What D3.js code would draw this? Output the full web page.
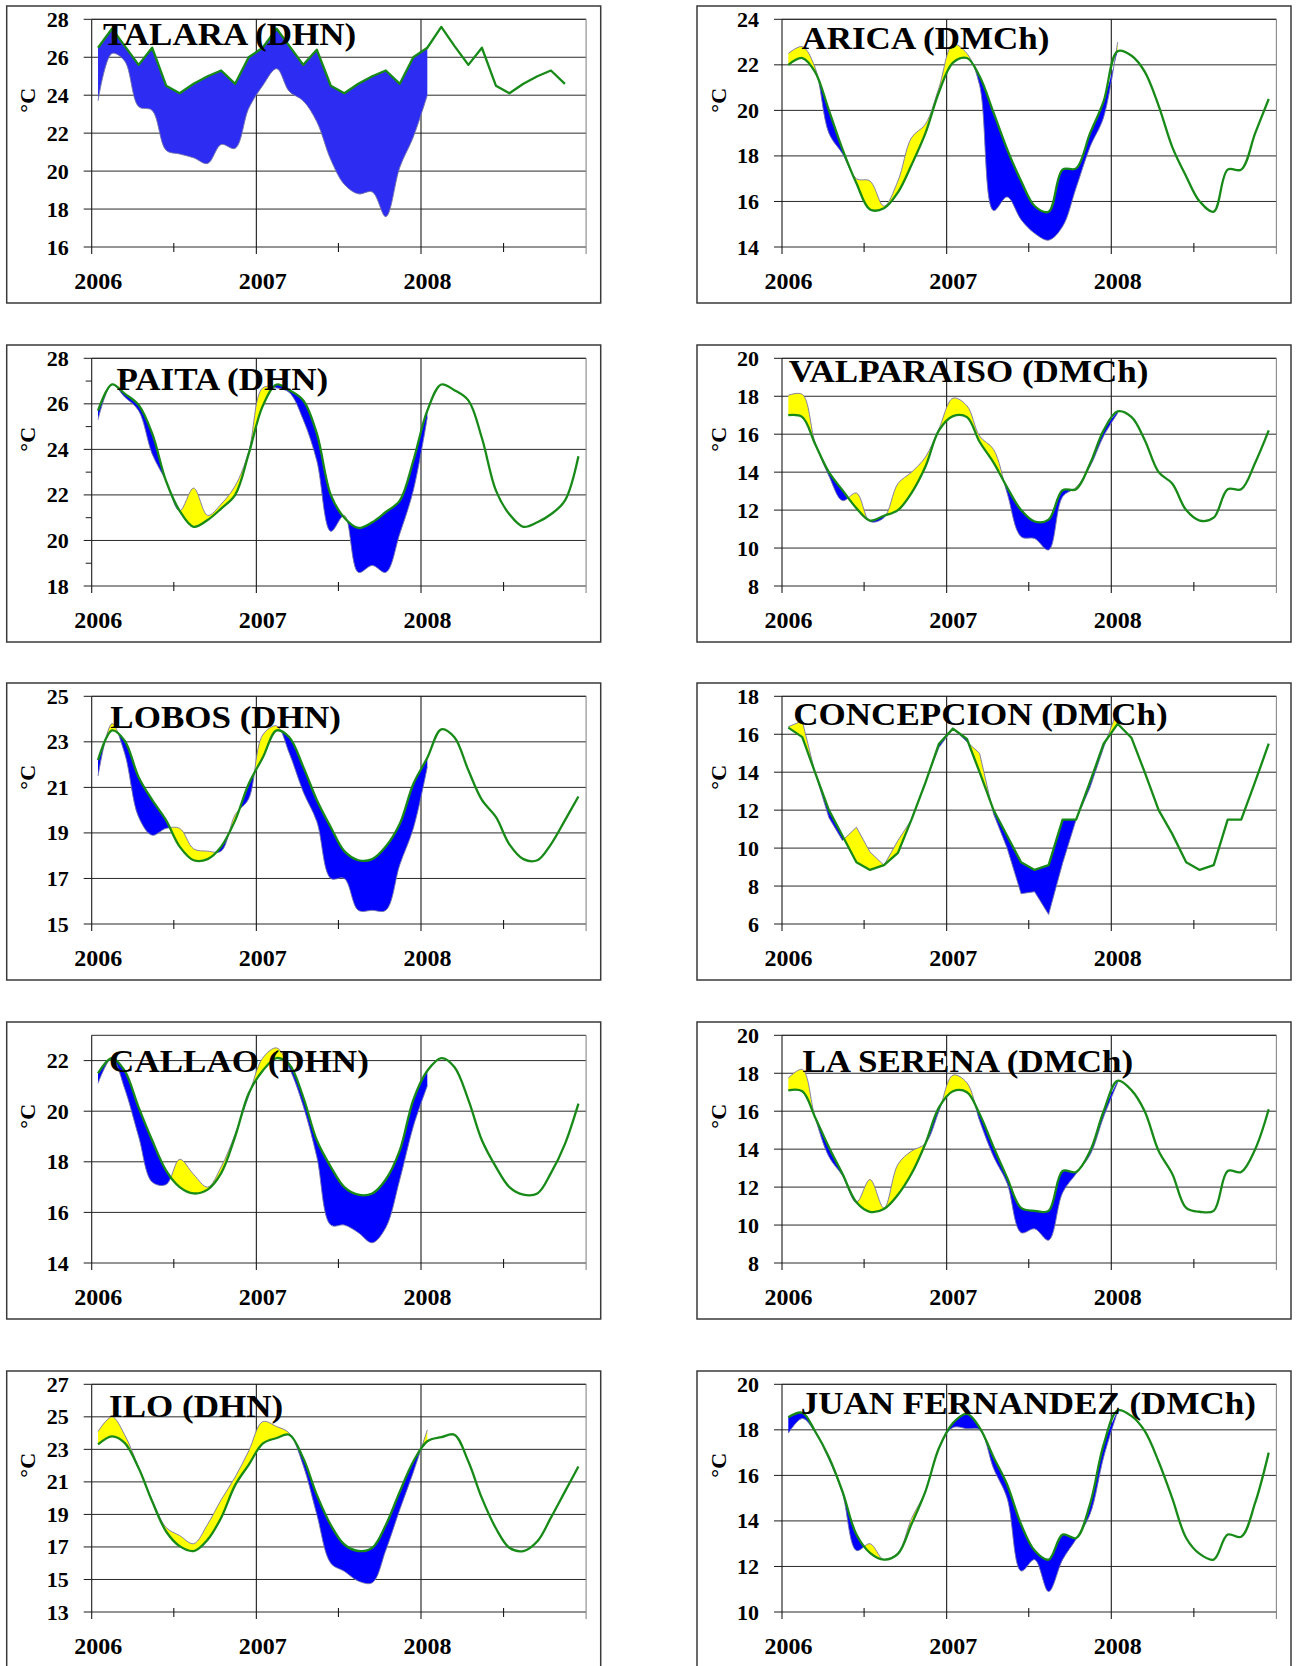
<!DOCTYPE html>
<html><head><meta charset="utf-8">
<script src="https://cdn.jsdelivr.net/npm/d3@7"></script>
<style>body{margin:0;background:#fff}svg{display:block}</style>
</head><body>
<svg id="chart" width="1296" height="1666"></svg>
<script>
// ---------------- DATA ----------------
const stations = ["TALARA (DHN)", "ARICA (DMCh)", "PAITA (DHN)", "VALPARAISO (DMCh)", "LOBOS (DHN)",
  "CONCEPCION (DMCh)", "CALLAO (DHN)", "LA SERENA (DMCh)", "ILO (DHN)", "JUAN FERNANDEZ (DMCh)"];
const yMin  = [16, 14, 18, 8, 15, 6, 14, 8, 13, 10];
const yMax  = [28, 24, 28, 20, 25, 18, 23, 20, 27, 20];
const yStep = [2, 2, 2, 2, 2, 2, 2, 2, 2, 2];
const yearLabels = ["2006", "2007", "2008"];
// monthly series start January 2006
const talaraClim = [26.5,27.5,26.6,25.6,26.5,24.5,24.1,24.6,25.0,25.3,24.6,26.0,
  26.5,27.5,26.6,25.6,26.4,24.5,24.1,24.6,25.0,25.3,24.6,26.0,
  26.5,27.6,26.6,25.6,26.5,24.5,24.1,24.6,25.0,25.3,24.6];
const talaraObs = [23.7,26.2,25.8,23.4,23.2,21.1,20.9,20.7,20.4,21.4,21.2,23.3,
  24.5,25.4,24.2,23.7,22.6,20.6,19.3,18.8,18.9,17.6,20.2,21.8,24.0];
const aricaClim = [22.0,22.3,21.7,20.0,18.3,16.8,15.65,15.7,16.4,17.6,19.0,20.8,
  22.1,22.3,21.5,19.9,18.3,16.9,15.8,15.55,17.4,17.45,19.0,20.4,
  22.6,22.4,21.7,20.2,18.4,17.1,16.0,15.55,17.4,17.4,19.0,20.5];
const aricaObs = [22.5,22.8,21.9,19.0,18.1,17.0,16.9,15.8,16.9,18.8,19.4,21.0,
  22.9,22.5,21.1,15.6,16.2,15.2,14.6,14.3,14.9,16.6,18.4,19.7,23.0];
const paitaClim = [25.7,26.85,26.45,25.95,24.7,22.6,21.3,20.6,20.9,21.4,22.0,23.8,
  25.9,26.85,26.6,26.15,24.7,22.0,21.0,20.55,20.8,21.25,21.75,23.5,
  25.7,26.85,26.6,26.15,24.5,22.2,21.15,20.6,20.8,21.15,21.75,23.7];
const paitaObs = [25.3,26.85,26.3,25.7,23.8,22.6,21.3,22.3,21.1,21.6,22.4,23.9,
  26.7,26.7,26.5,25.3,23.5,20.4,21.1,18.6,18.9,18.6,20.3,22.2,25.4];
const valparaisoClim = [17.0,16.9,15.5,14.0,13.05,12.1,11.45,11.7,12.0,12.9,14.3,16.2,
  16.95,16.9,15.6,14.5,13.2,12.0,11.4,11.5,13.05,13.1,14.45,16.2,
  17.2,16.9,15.7,14.0,13.4,12.0,11.45,11.6,13.1,13.1,14.5,16.2];
const valparaisoObs = [18.05,18.1,15.6,13.8,12.5,12.9,11.4,11.6,13.4,14.0,14.8,16.3,
  17.9,17.5,15.9,15.2,12.9,10.6,10.5,9.9,12.7,13.2,14.3,15.9,17.1];
const lobosClim = [22.2,23.5,23.05,21.45,20.45,19.55,18.4,17.8,17.85,18.4,19.55,21.15,
  22.3,23.5,23.2,21.9,20.45,19.25,18.2,17.8,17.85,18.4,19.4,21.15,
  22.3,23.55,23.2,21.75,20.45,19.7,18.5,17.85,17.8,18.5,19.55,20.6];
const lobosObs = [21.5,23.8,22.5,19.7,18.9,19.2,19.2,18.3,18.2,18.2,19.8,20.5,
  23.3,23.7,22.5,20.8,19.5,17.0,17.0,15.6,15.6,15.6,17.6,19.2,21.9];
const concepcionClim = [16.35,15.85,14.0,12.0,10.65,9.25,8.85,9.1,9.75,11.5,13.45,15.5,
  16.3,15.75,14.0,12.0,10.65,9.25,8.85,9.1,11.5,11.5,13.5,15.5,
  16.55,15.8,14.0,12.0,10.75,9.25,8.85,9.1,11.5,11.5,13.5,15.5];
const concepcionObs = [16.4,16.7,14.0,11.6,10.4,11.1,9.8,9.1,10.4,11.5,13.5,15.3,
  16.3,15.6,15.0,11.8,10.0,7.6,7.7,6.5,9.2,11.5,13.2,15.3,17.3];
const callaoClim = [21.5,22.1,21.6,20.15,18.85,17.65,17.0,16.75,16.9,17.55,19.0,20.7,
  21.6,22.1,21.85,20.55,18.85,17.8,17.0,16.7,16.75,17.3,18.45,20.45,
  21.6,22.1,21.75,20.45,18.85,17.8,17.0,16.7,16.75,17.55,18.7,20.3];
const callaoObs = [21.1,22.1,20.9,19.0,17.2,17.1,18.1,17.5,17.0,17.8,19.1,20.6,
  22.1,22.5,21.7,20.2,18.2,15.5,15.5,15.2,14.8,15.4,17.3,19.4,21.0];
const laSerenaClim = [17.1,17.05,15.7,14.1,12.7,11.2,10.7,10.85,11.6,12.7,14.3,16.2,
  17.05,17.0,15.85,14.1,12.5,10.9,10.75,10.75,12.85,12.8,13.9,16.0,
  17.6,17.1,16.0,13.9,12.7,10.9,10.7,10.75,12.85,12.8,14.0,16.1];
const laSerenaObs = [17.75,18.2,15.7,13.6,12.6,11.2,12.4,10.9,13.2,13.9,14.3,16.0,
  17.9,17.5,15.5,13.6,12.2,9.6,9.8,9.2,11.7,12.7,13.7,15.7,17.5];
const iloClim = [23.3,23.8,23.4,21.85,19.8,17.95,17.05,16.75,17.45,18.8,20.8,22.05,
  23.35,23.7,23.9,22.45,20.2,18.35,17.15,16.75,16.95,18.35,20.4,22.25,
  23.5,23.75,23.9,22.25,20.0,18.15,16.95,16.75,17.35,18.8,20.4,21.95];
const iloObs = [24.1,25.0,23.9,21.9,19.9,18.2,17.7,17.2,18.4,19.9,21.3,22.9,
  24.7,24.4,24.0,22.0,19.0,16.0,15.5,14.9,14.8,16.8,19.3,21.6,24.2];
const juanFernandezClim = [18.55,18.75,17.95,16.8,15.3,13.4,12.6,12.3,12.55,13.85,15.3,17.2,
  18.3,18.7,18.1,16.8,15.6,13.85,12.7,12.3,13.4,13.25,14.75,17.35,
  18.85,18.6,17.95,16.6,15.0,13.25,12.55,12.3,13.4,13.3,14.8,17.0];
const juanFernandezObs = [17.85,18.5,17.9,16.7,15.2,12.7,13.0,12.3,12.6,14.1,15.3,17.2,
  18.1,18.05,18.0,16.3,15.0,11.8,12.3,10.9,12.3,13.2,14.3,16.8,18.8];

const climSeries = [talaraClim, aricaClim, paitaClim, valparaisoClim, lobosClim,
  concepcionClim, callaoClim, laSerenaClim, iloClim, juanFernandezClim];
const obsSeries = [talaraObs, aricaObs, paitaObs, valparaisoObs, lobosObs,
  concepcionObs, callaoObs, laSerenaObs, iloObs, juanFernandezObs];
const smoothClim = [false, true, true, true, true, false, true, true, true, true];
const smoothObs  = [true, true, true, true, true, false, true, true, true, true];

// ---------------- LAYOUT / STYLE ----------------
const colX = [6.7, 697], rowY = [6, 345, 683, 1022, 1371];
const boxW = 594, boxH = 297;
const plotDX = 85, plotDY = 13.3, plotW = 494.4, plotH = 227.7;
const titleOff = [[11.3,25.7],[19.4,30],[24.8,31.7],[6.8,23.4],[18.6,31.6],[11.3,28.7],[17.4,36.7],[20.5,36.7],[17.4,32.4],[18.7,30]];
const serif = "'Liberation Serif','Times New Roman',Times,serif";
const svg = d3.select("#chart");

stations.forEach((name, i) => {
  const bx = colX[i % 2], by = rowY[Math.floor(i / 2)];
  const L = bx + plotDX, T = by + plotDY, R = L + plotW, B = T + plotH;
  const g = svg.append("g");
  g.append("rect").attr("x", bx).attr("y", by).attr("width", boxW).attr("height", boxH)
    .attr("fill", "#fff").attr("stroke", "#3a3a3a").attr("stroke-width", 1.5);

  const x = d3.scaleTime().domain([new Date(2006, 0, 1), new Date(2009, 0, 1)]).range([L, R]);
  const y = d3.scaleLinear().domain([yMin[i], yMax[i]]).range([B, T]);
  const ticks = d3.range(yMin[i], yMax[i] + 0.001, yStep[i]);

  // grid
  g.selectAll(".hg").data(ticks).enter().append("line")
    .attr("x1", L).attr("x2", R).attr("y1", d => y(d)).attr("y2", d => y(d))
    .attr("stroke", "#2a2a2a").attr("stroke-width", 1);
  g.append("line").attr("x1", L).attr("x2", R).attr("y1", T).attr("y2", T).attr("stroke", "#2a2a2a");
  const years = [2006, 2007, 2008, 2009].map(yr => new Date(yr, 0, 1));
  g.selectAll(".vg").data(years).enter().append("line")
    .attr("x1", d => x(d)).attr("x2", d => x(d)).attr("y1", T).attr("y2", B + 7)
    .attr("stroke", (d, k) => k === 3 ? "#888" : "#1a1a1a").attr("stroke-width", 1.1);
  const halves = [2006, 2007, 2008].map(yr => new Date(yr, 6, 2));
  g.selectAll(".ht").data(halves).enter().append("line")
    .attr("x1", d => x(d)).attr("x2", d => x(d)).attr("y1", B - 4).attr("y2", B + 5)
    .attr("stroke", "#1a1a1a").attr("stroke-width", 1.1);
  g.selectAll(".yt").data(ticks).enter().append("line")
    .attr("x1", L - 8).attr("x2", L).attr("y1", d => y(d)).attr("y2", d => y(d))
    .attr("stroke", "#1a1a1a");
  if (i === 2) {
    g.selectAll(".ym").data(d3.range(yMin[i] + 1, yMax[i], 2)).enter().append("line")
      .attr("x1", L - 6).attr("x2", L).attr("y1", d => y(d)).attr("y2", d => y(d))
      .attr("stroke", "#1a1a1a");
  }

  // series
  const clim = climSeries[i].map((v, k) => ({ d: new Date(2006, k, 15), v }));
  const obs = obsSeries[i].map((v, k) => ({ d: new Date(2006, k, 15), v }));
  const smooth = d3.curveCatmullRom.alpha(0.5);
  const lineC = d3.line().x(p => x(p.d)).y(p => y(p.v)).curve(smoothClim[i] ? smooth : d3.curveLinear);
  const lineO = d3.line().x(p => x(p.d)).y(p => y(p.v)).curve(smoothObs[i] ? smooth : d3.curveLinear);

  const climPath = lineC(clim);
  const first = clim[0], last = clim[clim.length - 1];
  const body = climPath.replace(/^M/, "L");
  const aboveD = `M${L - 5},${y(first.v)}${body}L${R + 5},${y(last.v)}L${R + 5},${T - 50}L${L - 5},${T - 50}Z`;
  const belowD = `M${L - 5},${y(first.v)}${body}L${R + 5},${y(last.v)}L${R + 5},${B + 50}L${L - 5},${B + 50}Z`;
  const idA = "ab" + i, idB = "be" + i;
  const defs = g.append("defs");
  defs.append("clipPath").attr("id", idA).append("path").attr("d", aboveD);
  defs.append("clipPath").attr("id", idB).append("path").attr("d", belowD);

  const climSub = clim.slice(0, obs.length).reverse();
  const band = lineO(obs) + lineC(climSub).replace(/^M/, "L") + "Z";
  g.append("path").attr("d", band).attr("fill", "#ffff00").attr("clip-path", `url(#${idA})`);
  g.append("path").attr("d", band).attr("fill", i === 0 ? "#2c2cf2" : "#0000ff").attr("clip-path", `url(#${idB})`);
  g.append("path").attr("d", lineO(obs)).attr("fill", "none").attr("stroke", "#7474a8").attr("stroke-width", 0.9);
  g.append("path").attr("d", climPath).attr("fill", "none").attr("stroke", "#178a17").attr("stroke-width", 2.3)
    .attr("stroke-linejoin", "round");

  // labels
  g.selectAll(".yl").data(ticks).enter().append("text")
    .attr("x", L - 23).attr("y", d => y(d) + 7.5).attr("text-anchor", "end")
    .attr("font-family", serif).attr("font-weight", "bold").attr("font-size", 22).text(d => d);
  g.selectAll(".xl").data(yearLabels).enter().append("text")
    .attr("x", (d, k) => x(years[k]) + 6.5).attr("y", B + 42).attr("text-anchor", "middle")
    .attr("font-family", serif).attr("font-weight", "bold").attr("font-size", 24).text(d => d);
  g.append("text").attr("transform", `translate(${L - 64},${T + 81}) rotate(-90)`)
    .attr("dy", "0.35em").attr("text-anchor", "middle")
    .attr("font-family", serif).attr("font-weight", "bold").attr("font-size", 22).text("°C");
  g.append("text").attr("transform", `translate(${L + titleOff[i][0]},${T + titleOff[i][1]}) scale(1.13,1)`)
    .attr("font-family", serif).attr("font-weight", "bold").attr("font-size", 31).text(name);
});
</script>
</body></html>
